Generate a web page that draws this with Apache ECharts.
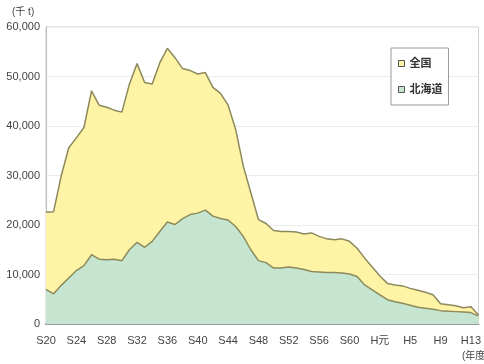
<!DOCTYPE html>
<html>
<head>
<meta charset="utf-8">
<style>
  html, body { margin: 0; padding: 0; background: #fff; }
  #chart { width: 484px; height: 364px; }
</style>
<script src="https://cdn.jsdelivr.net/npm/echarts@6/dist/echarts.min.js"></script>
</head>
<body>
<div id="chart"></div>
<script>
// 年度（昭和20年度〜平成14年度）
const years = [
  'S20','S21','S22','S23','S24','S25','S26','S27','S28','S29',
  'S30','S31','S32','S33','S34','S35','S36','S37','S38','S39',
  'S40','S41','S42','S43','S44','S45','S46','S47','S48','S49',
  'S50','S51','S52','S53','S54','S55','S56','S57','S58','S59',
  'S60','S61','S62','S63','H元','H2','H3','H4','H5','H6',
  'H7','H8','H9','H10','H11','H12','H13','H14'
];

// 全国（千t）
const zenkoku = [
  22600, 22700, 29900, 35600, 37600, 39700, 47100, 44200, 43800, 43200,
  42800, 48500, 52600, 48800, 48500, 52800, 55700, 53800, 51600, 51200,
  50500, 50800, 47800, 46600, 44200, 39300, 31900, 26500, 21100, 20300,
  18900, 18700, 18700, 18600, 18200, 18400, 17700, 17200, 17000, 17200,
  16700, 15300, 13300, 11500, 9700, 8200, 7900, 7700, 7200, 6800,
  6400, 5900, 4100, 3900, 3700, 3300, 3500, 1800
];

// 北海道（千t）
const hokkaido = [
  7000, 6100, 7800, 9300, 10800, 11800, 14000, 13100, 13000, 13100,
  12800, 15000, 16500, 15500, 16700, 18700, 20600, 20100, 21300, 22100,
  22400, 23000, 21800, 21300, 21000, 19700, 17700, 15000, 12800, 12400,
  11300, 11300, 11500, 11300, 11000, 10600, 10500, 10400, 10400, 10300,
  10100, 9600, 7900, 6900, 5900, 4900, 4500, 4200, 3800, 3400,
  3200, 3000, 2700, 2600, 2500, 2400, 2300, 1600
];

const yTicks = [0, 10000, 20000, 30000, 40000, 50000, 60000];

const FONT = '"Liberation Sans", Arial, "Noto Sans CJK JP", sans-serif';
const LINE = '#8c8a5c';

const chart = echarts.init(document.getElementById('chart'), null, { renderer: 'canvas' });

chart.setOption({
  animation: false,
  backgroundColor: '#ffffff',
  textStyle: { fontFamily: FONT },
  grid: {
    left: 46, right: 4, top: 27, bottom: 40,
    show: true, borderColor: '#cfcfcf', borderWidth: 1, backgroundColor: 'transparent'
  },
  legend: {
    orient: 'vertical',
    left: 391, top: 48,
    padding: [10, 6, 10, 7],
    itemGap: 15,
    itemWidth: 6, itemHeight: 6,
    icon: 'rect',
    backgroundColor: '#ffffff',
    borderColor: '#9a9a9a', borderWidth: 1,
    textStyle: { fontSize: 11, fontWeight: 'bold', color: '#333', fontFamily: FONT },
    data: [
      { name: '全国', itemStyle: { color: '#fff3a6', borderColor: '#555', borderWidth: 1 } },
      { name: '北海道', itemStyle: { color: '#c6e5d0', borderColor: '#555', borderWidth: 1 } }
    ]
  },
  xAxis: {
    type: 'category',
    data: years,
    boundaryGap: false,
    axisLine: { lineStyle: { color: '#9a9a9a', width: 2 } },
    axisTick: { show: true, inside: true, interval: 4, length: 4, lineStyle: { color: '#9a9a9a' } },
    axisLabel: {
      interval: 3, color: '#444', fontSize: 11, margin: 11, fontFamily: FONT
    },
    splitLine: { show: false }
  },
  yAxis: {
    type: 'value',
    min: yTicks[0], max: yTicks[yTicks.length - 1], interval: yTicks[1] - yTicks[0],
    axisLine: { show: true, lineStyle: { color: '#bdbdbd' } },
    axisTick: { show: false },
    axisLabel: {
      color: '#444', fontSize: 11, margin: 6, fontFamily: FONT,
      formatter: v => v.toLocaleString('en-US')
    },
    splitLine: { show: true, lineStyle: { color: '#ececec' } }
  },
  graphic: [
    { type: 'text', left: 12, top: 7, style: { text: '(千 t)', fontSize: 10, fill: '#444', fontFamily: FONT } },
    { type: 'text', left: 462, top: 351, style: { text: '(年度)', fontSize: 10, fill: '#444', fontFamily: FONT } }
  ],
  series: [
    {
      name: '全国',
      type: 'line',
      data: zenkoku,
      showSymbol: false,
      symbol: 'none',
      lineStyle: { color: LINE, width: 1.5 },
      itemStyle: { color: '#fff3a6' },
      areaStyle: { color: '#fff3a6', opacity: 1 },
      z: 2
    },
    {
      name: '北海道',
      type: 'line',
      data: hokkaido,
      showSymbol: false,
      symbol: 'none',
      lineStyle: { color: LINE, width: 1.5 },
      itemStyle: { color: '#c6e5d0' },
      areaStyle: { color: '#c6e5d0', opacity: 1 },
      z: 3
    }
  ]
});
</script>
</body>
</html>
